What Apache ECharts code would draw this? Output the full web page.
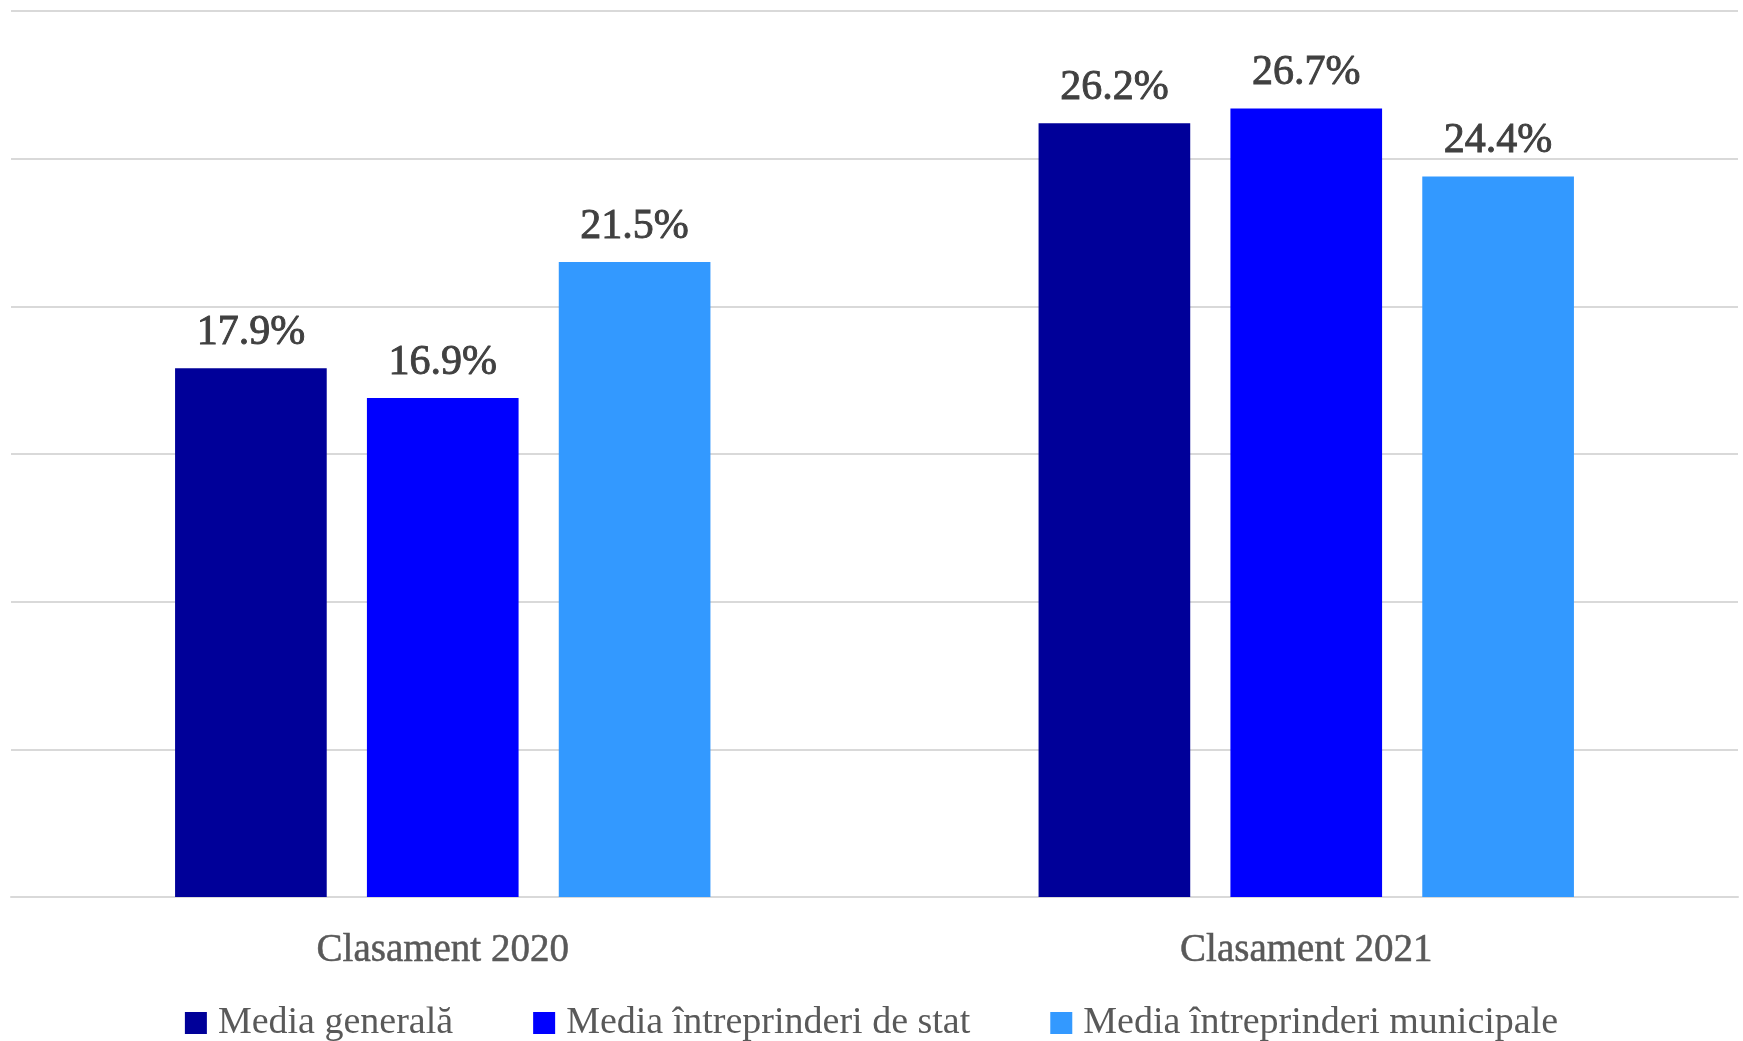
<!DOCTYPE html>
<html>
<head>
<meta charset="utf-8">
<script src="https://cdn.jsdelivr.net/npm/echarts@6/dist/echarts.min.js"></script>
<style>
html,body{margin:0;padding:0;background:#fff;}
#chart{width:1743px;height:1041px;}
</style>
</head>
<body>
<div id="chart"></div>
<script>
const categories = ['Clasament 2020', 'Clasament 2021'];
const seriesNames = ['Media generală', 'Media întreprinderi de stat', 'Media întreprinderi municipale'];
const mediaGenerala = [17.9, 26.2];
const mediaStat = [16.9, 26.7];
const mediaMunicipale = [21.5, 24.4];
const colors = ['#000099', '#0000FF', '#3399FF'];

const FONT = 'Liberation Serif';
const chart = echarts.init(document.getElementById('chart'));

function mk(name, data, color) {
  return {
    name: name,
    type: 'bar',
    data: data,
    barGap: '26.5%',
    barCategoryGap: '38%',
    itemStyle: { color: color },
    label: {
      show: true,
      position: 'top',
      distance: 14,
      formatter: p => p.value.toFixed(1) + '%',
      fontFamily: FONT,
      fontSize: 42,
      color: '#404040',
      textBorderColor: '#404040',
      textBorderWidth: 0.9
    }
  };
}

chart.setOption({
  animation: false,
  textStyle: { fontFamily: FONT },
  grid: { left: 11, right: 5, top: 11, bottom: 144, containLabel: false },
  legend: {
    bottom: -6,
    left: 'center',
    itemWidth: 22,
    itemHeight: 22,
    itemGap: 80,
    icon: 'rect',
    textStyle: { fontFamily: FONT, fontSize: 38, color: '#595959', padding: [0, 0, 0, 6] },
    data: seriesNames
  },
  xAxis: {
    type: 'category',
    data: categories,
    axisLine: { lineStyle: { color: '#D9D9D9', width: 2 } },
    axisTick: { show: false },
    axisLabel: { fontFamily: FONT, fontSize: 39, color: '#595959', margin: 34, textBorderColor: '#595959', textBorderWidth: 0.5 }
  },
  yAxis: {
    type: 'value',
    min: 0,
    max: 30,
    interval: 5,
    axisLabel: { show: false },
    axisLine: { show: false },
    axisTick: { show: false },
    splitLine: { lineStyle: { color: '#D9D9D9', width: 2 } }
  },
  series: [
    mk(seriesNames[0], mediaGenerala, colors[0]),
    mk(seriesNames[1], mediaStat, colors[1]),
    mk(seriesNames[2], mediaMunicipale, colors[2])
  ]
});
</script>
</body>
</html>
